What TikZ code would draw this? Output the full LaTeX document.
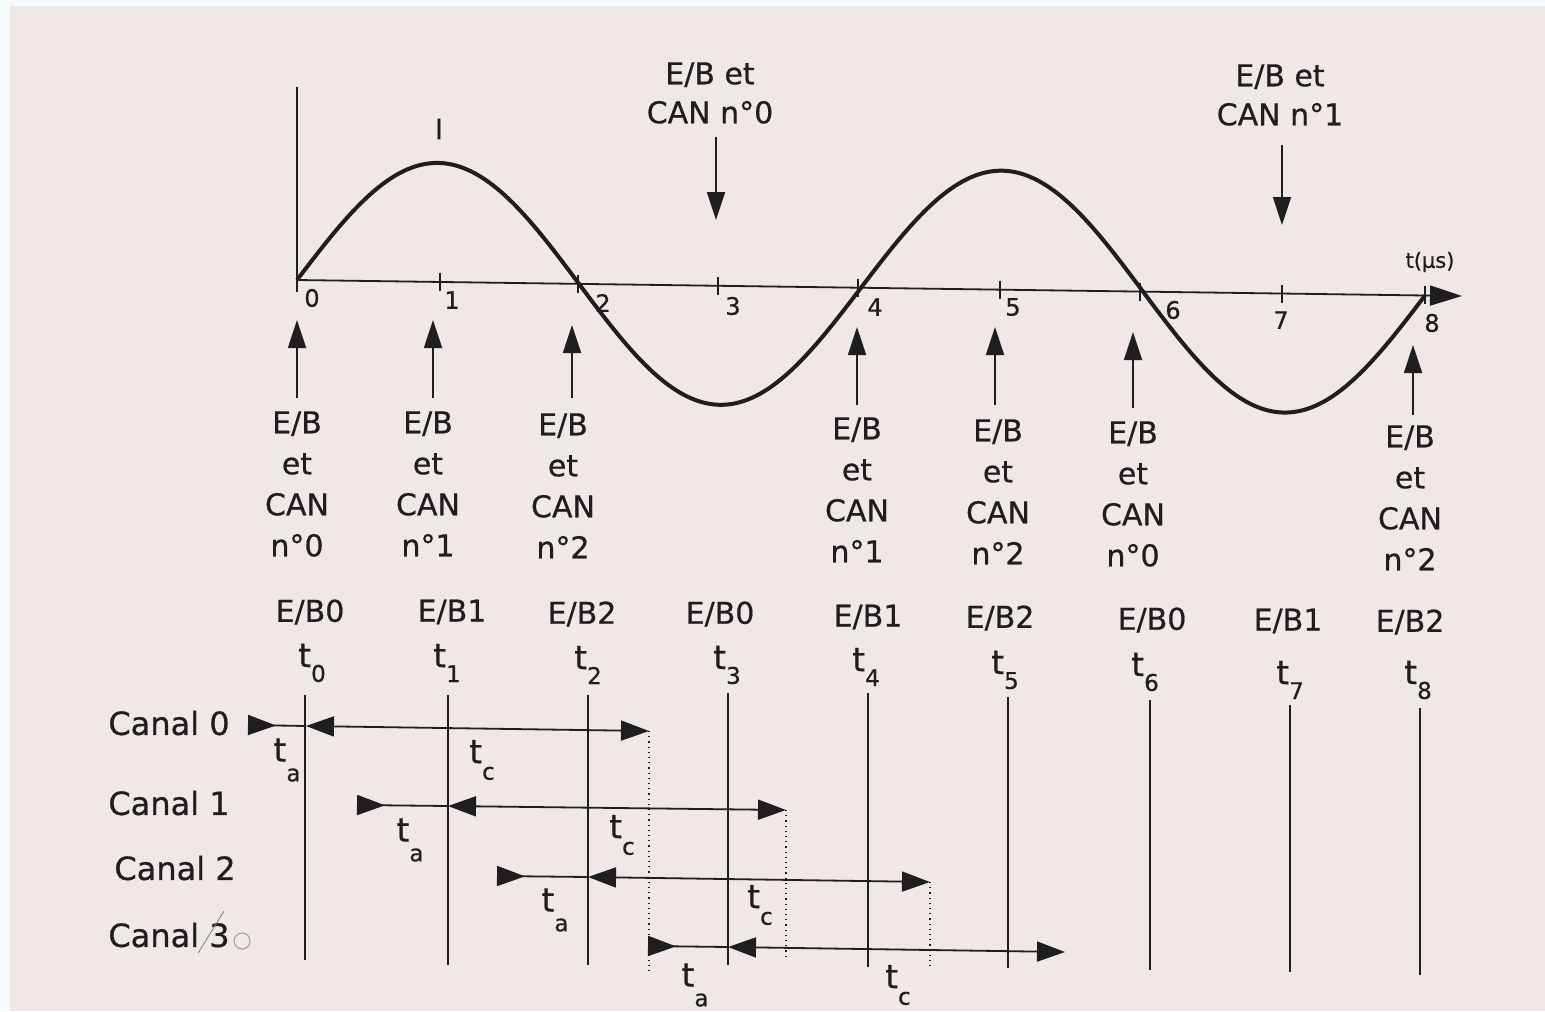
\documentclass[tikz,border=0pt]{standalone}
\usepackage{fontspec}
\setmainfont{DejaVu Sans}[FakeBold=0.6]
\usetikzlibrary{arrows.meta}
\definecolor{paper}{HTML}{F0E8E7}
\definecolor{rim}{HTML}{F4FCFD}
\definecolor{ink}{HTML}{1E1E1E}
\newcommand\tlow[2]{t\raisebox{-#1}{\fontsize{11.5}{11.5}\selectfont #2}}
\begin{document}
\begin{tikzpicture}[x=0.5pt,y=-0.5pt,
  txt/.style={text=ink,inner sep=0pt,font=\fontsize{15}{20.5}\selectfont,align=center},
  toptxt/.style={txt,font=\fontsize{15}{19.5}\selectfont},
  canal/.style={text=ink,inner sep=0pt,font=\fontsize{16}{18}\selectfont,anchor=west},
  num/.style={text=ink,inner sep=0pt,font=\fontsize{12}{13}\selectfont},
  tl/.style={text=ink,inner sep=0pt,font=\fontsize{16.5}{18}\selectfont},
  curve/.style={draw=ink,line width=2pt,line join=round},
  axis/.style={draw=ink,line width=0.9pt},
  tline/.style={draw=ink,line width=1.2pt},
  upar/.style={draw=ink,line width=0.9pt,-{Triangle[length=14pt,width=9pt]}},
  dnar/.style={draw=ink,line width=0.9pt,-{Triangle[length=14pt,width=9pt]}},
  dimA/.style={draw=ink,line width=0.9pt,{Triangle[reversed,length=14pt,width=10pt]}-},
  dimC/.style={draw=ink,line width=0.9pt,{Triangle[length=14pt,width=10pt]}-{Triangle[length=14pt,width=10pt]}},
  dotl/.style={draw=ink,line width=0.6pt,dotted}]

% background
\fill[rim] (0,0) rectangle (1545,1011);
\fill[paper] (10,6) rectangle (1545,1011);
\useasboundingbox (0,0) rectangle (1545,1011);

% axes
\coordinate (vtop) at (297,87);
\coordinate (vbot) at (297,292);
\draw[axis] (vtop) -- (vbot);
\coordinate (ax0) at (297,280);
\coordinate (axend) at (1462,296);
\draw[axis,-{Triangle[length=16pt,width=10pt]}] (ax0) -- (axend);
\foreach \x in {440,578,718,858,1000,1140,1282,1425}{
  \draw[axis] (\x,{280+0.01373*(\x-297)-9}) -- (\x,{280+0.01373*(\x-297)+9});
}
\node[num] (n0) at (312,298) {0};
\node[num] (n1) at (452,300) {1};
\node[num] (n2) at (603,303) {2};
\node[num] (n3) at (733,306) {3};
\node[num] (n4) at (875,307) {4};
\node[num] (n5) at (1013,307) {5};
\node[num] (n6) at (1173,310) {6};
\node[num] (n7) at (1281,320) {7};
\node[num] (n8) at (1432,323) {8};
\node[num,font=\fontsize{10.5}{12}\selectfont] (tmu) at (1430,262) {t(μs)};
\node[txt,font=\fontsize{14}{16}\selectfont] (imark) at (439,129) {I};

% sine
\draw[curve] plot[domain=297:1425,samples=240,smooth]
  (\x,{280+0.01373*(\x-297)-119*sin(0.638298*(\x-297))});

% top labels and arrows
\node[toptxt,anchor=north] (top0) at (710,62) {E/B et\\CAN n°0};
\coordinate (top0a) at (716,137);
\coordinate (top0b) at (716,220);
\draw[dnar] (top0a) -- (top0b);
\node[toptxt,anchor=north] (top1) at (1280,64) {E/B et\\CAN n°1};
\coordinate (top1a) at (1282,145);
\coordinate (top1b) at (1282,225);
\draw[dnar] (top1a) -- (top1b);

% up arrows under the axis
\foreach \x/\t/\b [count=\k] in {297/320/398,433/320/398,572/325/398,857/327/405,995/327/405,1133/332/408,1413/345/415}{
  \coordinate (ub\k) at (\x,\b);
  \coordinate (ut\k) at (\x,\t);
  \draw[upar] (ub\k) -- (ut\k);
}
% stacked labels
\foreach \x/\y/\n [count=\k] in {297/411/0,428/411/1,563/413/2,857/417/1,998/419/2,1133/421/0,1410/425/2}{
  \node[txt,anchor=north] (st\k) at (\x,\y) {E/B\\et\\CAN\\n°\n};
}

% E/B row and t row
\foreach \x/\y/\e/\tx/\ty/\i in {310/612/0/312/663/0,452/612/1/447/663/1,582/614/2/588/665/2,720/614/0/727/665/3,868/617/1/866/667/4,1000/618/2/1005/670/5,1152/620/0/1145/672/6,1288/621/1/1290/680/7,1410/622/2/1418/680/8}{
  \node[txt] (eb\i) at (\x,\y) {E/B\e};
  \node[tl] (tt\i) at (\tx,\ty) {\tlow{0.45em}{\i}};
}

% vertical time lines
\foreach \x/\a/\b [count=\k from 0] in {305/695/960,448/695/965,588/695/965,728/693/965,868/693/967,1008/697/968,1150/700/970,1290/705/972,1420/708/975}{
  \coordinate (vt\k) at (\x,\a);
  \coordinate (vb\k) at (\x,\b);
  \draw[tline] (vt\k) -- (vb\k);
}

% channel labels
\node[canal] (c0) at (108,723) {Canal 0};
\node[canal] (c1) at (108,803) {Canal 1};
\node[canal] (c2) at (114,868) {Canal 2};
\node[canal] (c3) at (108,935) {Canal 3};
\draw[gray,line width=0.4pt] ([xshift=-16pt,yshift=-9pt]c3.east) -- ([xshift=-3pt,yshift=12pt]c3.east);
\draw[gray!80,line width=0.5pt] ([xshift=6pt,yshift=-3pt]c3.east) circle (4pt);

% channel 0
\coordinate (a0) at (248,725);
\coordinate (m0) at (306,726);
\coordinate (e0) at (649,731);
\draw[dimA] (a0) -- (m0);
\draw[dimC] (m0) -- (e0);
% channel 1
\coordinate (a1) at (357,805);
\coordinate (m1) at (448,806);
\coordinate (e1) at (786,810);
\draw[dimA] (a1) -- (m1);
\draw[dimC] (m1) -- (e1);
% channel 2
\coordinate (a2) at (497,876);
\coordinate (m2) at (588,877);
\coordinate (e2) at (930,882);
\draw[dimA] (a2) -- (m2);
\draw[dimC] (m2) -- (e2);
% channel 3
\coordinate (a3) at (648,946);
\coordinate (m3) at (728,947);
\coordinate (e3) at (1065,952);
\draw[dimA] (a3) -- (m3);
\draw[dimC] (m3) -- (e3);

% dotted end markers
\coordinate (d0) at (649,973);
\coordinate (d1) at (786,958);
\coordinate (d2) at (930,967);
\draw[dotl] (e0) -- (d0);
\draw[dotl] (e1) -- (d1);
\draw[dotl] (e2) -- (d2);

% ta / tc labels
\node[tl] (ta0) at (287,760) {\tlow{0.6em}{a}};
\node[tl] (tc0) at (482,760) {\tlow{0.5em}{c}};
\node[tl] (ta1) at (410,840) {\tlow{0.6em}{a}};
\node[tl] (tc1) at (622,835) {\tlow{0.5em}{c}};
\node[tl] (ta2) at (555,910) {\tlow{0.6em}{a}};
\node[tl] (tc2) at (760,905) {\tlow{0.5em}{c}};
\node[tl] (ta3) at (695,985) {\tlow{0.6em}{a}};
\node[tl] (tc3) at (898,985) {\tlow{0.5em}{c}};
\end{tikzpicture}
\end{document}
